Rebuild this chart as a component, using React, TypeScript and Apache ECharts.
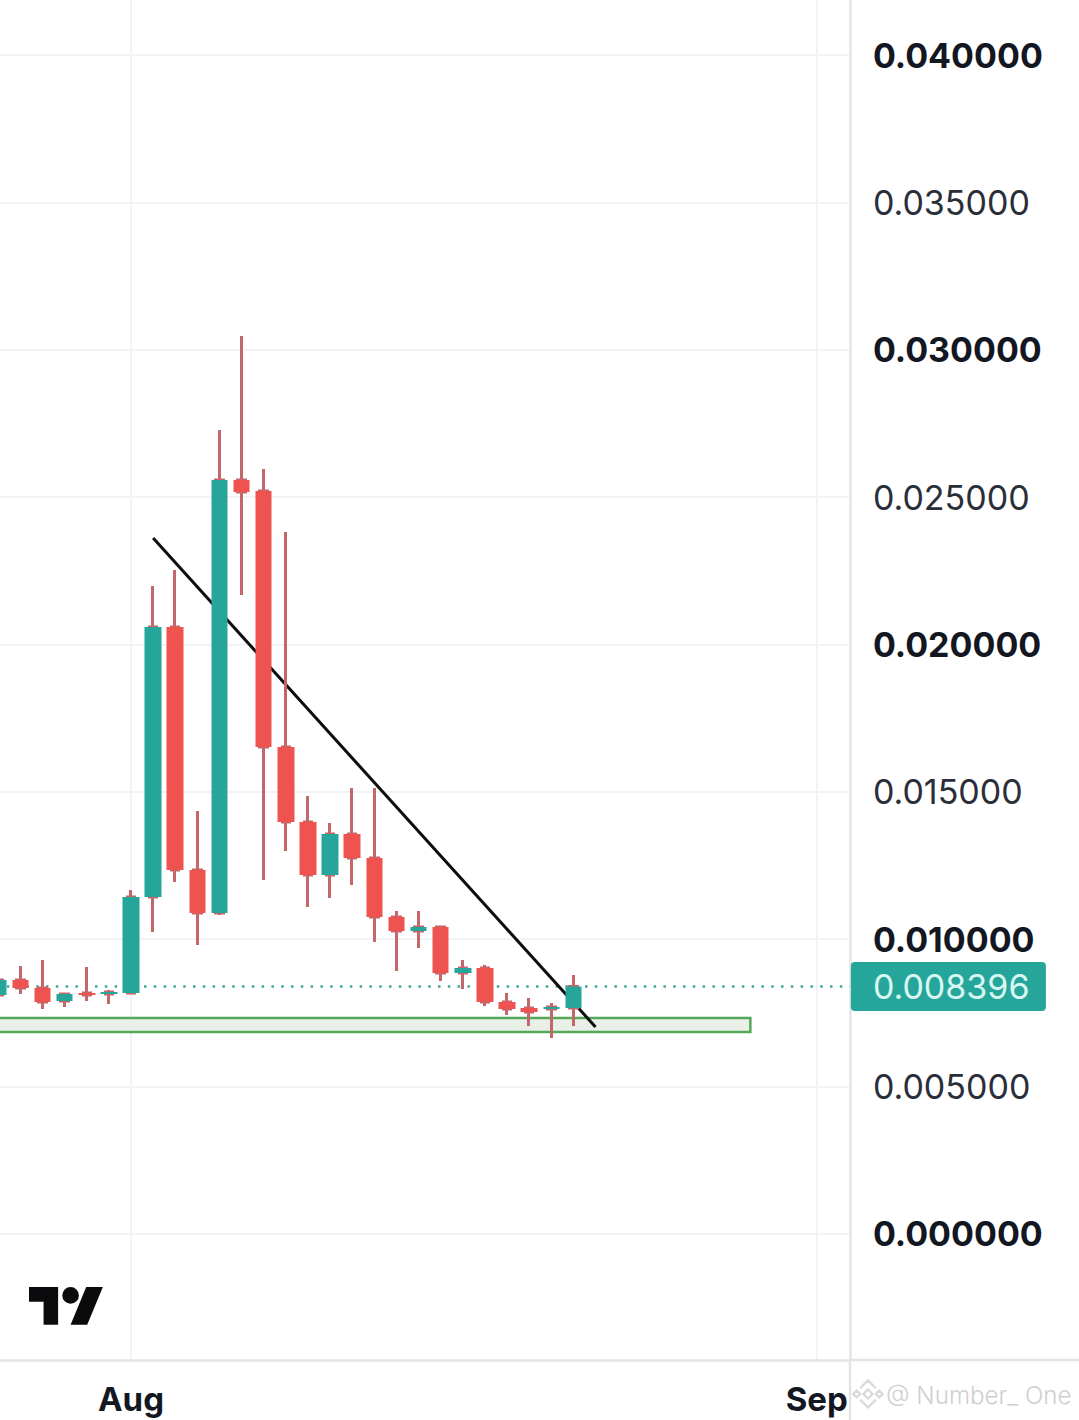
import React, { useEffect, useRef } from "react";
import * as echarts from "echarts";

const dates = [
  "Jul 26","Jul 27","Jul 28","Jul 29","Jul 30","Jul 31",
  "Aug 1","Aug 2","Aug 3","Aug 4","Aug 5","Aug 6","Aug 7","Aug 8","Aug 9","Aug 10",
  "Aug 11","Aug 12","Aug 13","Aug 14","Aug 15","Aug 16","Aug 17","Aug 18","Aug 19","Aug 20",
  "Aug 21","Aug 22","Aug 23","Aug 24","Aug 25","Aug 26","Aug 27","Aug 28","Aug 29","Aug 30","Aug 31",
  "Sep 1","Sep 2",
];
const opens = [
  0.008109,0.008617,0.008346,0.007905,0.008176,0.008143,
  0.008176,0.011433,0.020594,0.012349,0.010891,0.025581,0.025208,0.016522,0.013978,0.01218,
  0.013571,0.012757,0.010755,0.01028,0.010416,0.008855,0.009025,0.007871,0.007667,0.007634,0.007667,
];
const closes = [
  0.008617,0.008346,0.007871,0.008143,0.008109,0.00821,
  0.011433,0.020594,0.012349,0.010891,0.025581,0.025174,0.016522,0.013978,0.01218,0.013571,
  0.012757,0.010755,0.01028,0.010416,0.008855,0.009025,0.007871,0.007634,0.007532,0.007701,0.008396,
];
const lows = [
  0.008041,0.008143,0.007634,0.007701,0.007905,0.007803,
  0.008143,0.010246,0.011942,0.009805,0.010823,0.021679,0.01201,0.012994,0.011094,0.0114,
  0.01184,0.009907,0.008923,0.009703,0.008584,0.008312,0.007735,0.00743,0.007057,0.00665,0.007057,
];
const highs = [
  0.008685,0.009092,0.009296,0.008176,0.009058,0.008278,
  0.011671,0.021985,0.022528,0.014351,0.027277,0.030467,0.025954,0.023817,0.01486,0.013944,
  0.015131,0.015131,0.010958,0.010958,0.010416,0.009296,0.009126,0.008176,0.008007,0.007837,0.008787,
];
const priceTicks = [0, 0.005, 0.01, 0.015, 0.02, 0.025, 0.03, 0.035, 0.04];
const boldTicks = [0, 0.01, 0.02, 0.03, 0.04];
const monthTicks: Record<string, string> = { "Aug 1": "Aug", "Sep 1": "Sep" };
const lastPrice = 0.008396;
const trendDates = ["Aug 2", "Aug 22"];
const trendValues = [0.023613, 0.007023];
const zoneDates = ["Jul 26", "Aug 29"];
const zoneValues = [0.007328, 0.006853];
const watermark = "@ Number_ One";

const UP = "#26a69a";
const DOWN = "#ef5350";
const WICK = "#c4676b";
const GRID = "#f1f3f6";
const AXIS = "#e2e4e8";
const TEXT = "#131722";
const FONT = "Inter";

const LOGO =
  "M14 22H7V11H0V4h14v18zM28 22h-8l7.5-18h8L28 22z M24 8a4 4 0 1 1-8 0a4 4 0 1 1 8 0z";
const MARK =
  "M15 11L19 15L15 19L11 15Z M2 15L5 12L8 15L5 18Z M22 15L25 12L28 15L25 18Z M8 10L15 3L22 10 M8 20L15 27L22 20";

echarts.graphic.registerShape("tvlogo", echarts.graphic.extendPath(LOGO, {}));
echarts.graphic.registerShape("wmark", echarts.graphic.extendPath(MARK, {}));

export default function App() {
  const ref = useRef<HTMLDivElement>(null);
  useEffect(() => {
    document.body.style.margin = "0";
    const chart = echarts.init(ref.current!, undefined, { renderer: "svg" });
    const wickData = dates.slice(0, opens.length).map((_, i) => [opens[i], closes[i], lows[i], highs[i]]);
    const bodyData = dates.slice(0, opens.length).map((_, i) => [
      opens[i],
      closes[i],
      Math.min(opens[i], closes[i]),
      Math.max(opens[i], closes[i]),
    ]);
    chart.setOption({
      animation: false,
      backgroundColor: "#ffffff",
      grid: { left: -12.78, right: 229.1, top: 0, bottom: 60, containLabel: false, outerBoundsMode: "none" },
      xAxis: {
        type: "category",
        data: dates,
        axisLine: { show: true, onZero: false, lineStyle: { color: AXIS, width: 2.5 } },
        axisTick: { show: false },
        axisLabel: {
          interval: (_: number, v: string) => v in monthTicks,
          formatter: (v: string) => monthTicks[v] ?? "",
          margin: 22,
          fontFamily: FONT,
          fontWeight: 700,
          fontSize: 33,
          color: TEXT,
        },
        splitLine: {
          show: true,
          alignWithLabel: true,
          interval: (_: number, v: string) => v in monthTicks,
          lineStyle: { color: GRID, width: 2 },
        },
      },
      yAxis: {
        type: "value",
        position: "right",
        min: -0.004275,
        max: 0.041866,
        axisLine: { show: true, lineStyle: { color: AXIS, width: 2.5 } },
        axisTick: { show: false, customValues: priceTicks },
        axisLabel: {
          customValues: priceTicks,
          margin: 23,
          formatter: (v: number) => {
            const s = v.toFixed(6);
            return boldTicks.some((b) => Math.abs(b - v) < 1e-9) ? `{b|${s}}` : `{r|${s}}`;
          },
          rich: {
            b: { fontFamily: FONT, fontWeight: 700, fontSize: 34, color: TEXT },
            r: { fontFamily: FONT, fontWeight: 400, fontSize: 34, color: "#2a2e39" },
          },
        },
        splitLine: { show: true, lineStyle: { color: GRID, width: 2 } },
      },
      series: [
        {
          name: "Trend",
          type: "line",
          z: 3,
          data: trendDates.map((d, i) => [d, trendValues[i]]),
          showSymbol: false,
          symbol: "none",
          lineStyle: { color: "#0d0d0d", width: 3 },
          markArea: {
            z: 1,
            silent: true,
            itemStyle: { color: "#e9f0e7", borderColor: "#55a85a", borderWidth: 2.5 },
            data: [[
              { xAxis: zoneDates[0], yAxis: zoneValues[0] },
              { xAxis: zoneDates[1], yAxis: zoneValues[1] },
            ]],
          },
          markLine: {
            z: 2,
            silent: true,
            precision: 6,
            symbol: "none",
            lineStyle: { color: "#3fa69c", type: [2.5, 7.3], width: 2.5 },
            label: {
              show: true,
              position: "end",
              distance: 1,
              formatter: () => lastPrice.toFixed(6),
              backgroundColor: UP,
              borderRadius: 4,
              color: "#d9f7f2",
              fontFamily: FONT,
              fontSize: 34,
              align: "left",
              verticalAlign: "middle",
              width: 173,
              height: 49,
              lineHeight: 49,
              padding: [0, 0, 0, 22],
            },
            data: [{ yAxis: lastPrice }],
          },
        },
        {
          name: "Wicks",
          type: "candlestick",
          z: 4,
          barWidth: 8,
          itemStyle: { color: WICK, color0: WICK, borderColor: WICK, borderColor0: WICK, borderWidth: 3 },
          data: wickData,
        },
        {
          name: "Bodies",
          type: "candlestick",
          z: 5,
          barWidth: 17,
          itemStyle: { color: UP, color0: DOWN, borderColor: UP, borderColor0: DOWN, borderWidth: 0 },
          data: bodyData,
        },
      ],
      graphic: [
        { type: "line", silent: true, z: 1, shape: { x1: 850, y1: 1360, x2: 850, y2: 1420 }, style: { stroke: AXIS, lineWidth: 2.5 } },
        { type: "line", silent: true, z: 1, shape: { x1: 850, y1: 1360, x2: 1079, y2: 1360 }, style: { stroke: AXIS, lineWidth: 2.5 } },
        { type: "tvlogo", silent: true, x: 29, y: 1278.6, scaleX: 2.08, scaleY: 2.1, style: { fill: "#0b0b0d" } },
        { type: "wmark", silent: true, x: 851, y: 1377, scaleX: 1.13, scaleY: 1.13, style: { fill: "none", stroke: "#d9d9d9", lineWidth: 2 } },
        { type: "text", silent: true, x: 886, y: 1395, style: { text: watermark, fontFamily: FONT, fontWeight: 300, fontSize: 24.2, fill: "#cfcfcf", align: "left", verticalAlign: "middle" } },
      ],
    });
    return () => chart.dispose();
  }, []);
  return <div ref={ref} style={{ position: "fixed", left: 0, top: 0, width: 1079, height: 1420 }} />;
}
